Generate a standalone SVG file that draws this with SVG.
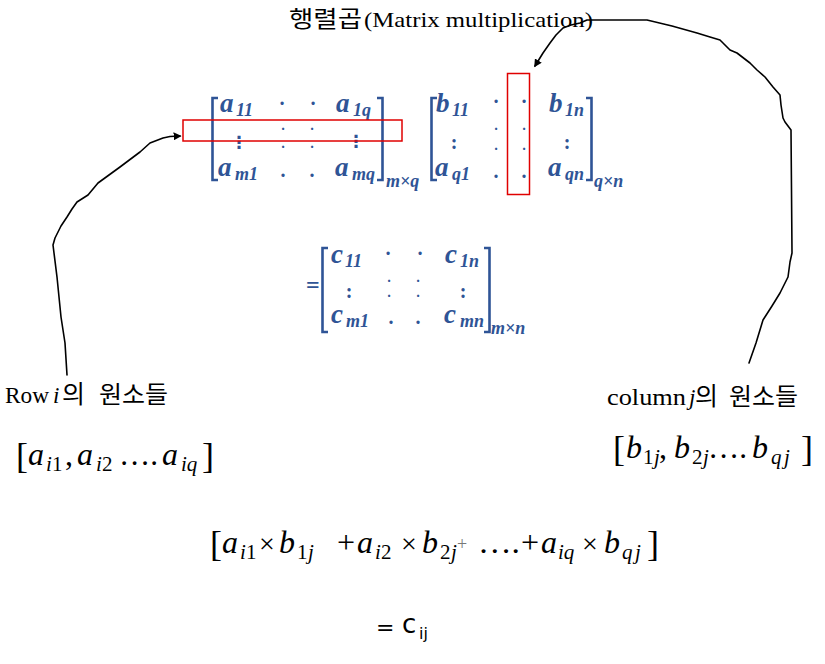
<svg xmlns="http://www.w3.org/2000/svg" width="825" height="664" viewBox="0 0 825 664">
<style>
.kr{font-family:"Noto Sans CJK KR","Noto Sans",sans-serif;fill:#000}
.tm{font-family:"Liberation Serif","Times New Roman",serif;fill:#000}
.m{font-family:"Liberation Serif","Times New Roman",serif;fill:#000}
.mi{font-family:"Liberation Serif","Times New Roman",serif;font-style:italic;fill:#000}
.bm{font-family:"Liberation Serif","Times New Roman",serif;font-weight:bold;font-style:italic;fill:#2f5496;font-size:27px}
.bs{font-family:"Liberation Serif","Times New Roman",serif;font-weight:bold;font-style:italic;fill:#2f5496;font-size:18px}
.bd{font-family:"Liberation Serif","Times New Roman",serif;font-weight:bold;fill:#2f5496;font-size:20px;text-anchor:middle}
.sd{font-family:"Liberation Serif","Times New Roman",serif;font-weight:bold;fill:#2f5496;font-size:14px;text-anchor:middle}
.vd{font-family:"DejaVu Sans",sans-serif;font-weight:bold;fill:#2f5496;font-size:17px;text-anchor:middle}
.br{fill:none;stroke:#2f5496;stroke-width:2.6}
.red{fill:none;stroke:#e00000;stroke-width:1.5}
.con{fill:none;stroke:#000;stroke-width:1.6;stroke-linejoin:round;stroke-linecap:round}
</style>
<defs>
<marker id="ah" viewBox="0 0 10 10" refX="8" refY="5" markerWidth="8" markerHeight="8" orient="auto" markerUnits="userSpaceOnUse">
<path d="M0,0 L10,5 L0,10 z" fill="#000"/>
</marker>
</defs>
<rect width="825" height="664" fill="#fff"/>

<g id="title">
<text class="kr" x="289" y="27" font-size="23" textLength="73" lengthAdjust="spacingAndGlyphs">행렬곱</text>
<text class="tm" x="364" y="27" font-size="22" textLength="229" lengthAdjust="spacingAndGlyphs">(Matrix multiplication)</text>
</g>

<g id="matrixA">
<path class="br" d="M218,98 H212.5 V180 H218"/>
<path class="br" d="M377,98 H382.5 V180 H377"/>
<text class="bm" x="220" y="112">a</text><text class="bs" x="236" y="116">11</text>
<text class="bd" x="282" y="110">·</text><text class="bd" x="313" y="110">·</text>
<text class="bm" x="336" y="112">a</text><text class="bs" x="353" y="116">1q</text>
<text class="vd" x="239" y="148">⋮</text>
<text class="sd" x="283" y="134">·</text><text class="sd" x="283" y="152">·</text>
<text class="sd" x="312" y="134">·</text><text class="sd" x="312" y="152">·</text>
<text class="vd" x="356" y="147">⋮</text>
<text class="bm" x="218" y="176">a</text><text class="bs" x="235" y="180">m1</text>
<text class="bd" x="283" y="177">.</text><text class="bd" x="312" y="177">.</text>
<text class="bm" x="335" y="176">a</text><text class="bs" x="352" y="180">mq</text>
<text class="bs" x="386" y="187">m×q</text>
</g>

<g id="matrixB">
<path class="br" d="M437,98 H431.5 V180 H437"/>
<path class="br" d="M586,98 H591.5 V180 H586"/>
<text class="bm" x="436" y="112">b</text><text class="bs" x="452" y="116">11</text>
<text class="bd" x="496" y="108">·</text><text class="bd" x="524" y="108">·</text>
<text class="bm" x="549" y="112">b</text><text class="bs" x="565" y="116">1n</text>
<text class="bd" x="454" y="149">:</text>
<text class="sd" x="496" y="134">·</text><text class="sd" x="496" y="154">·</text>
<text class="sd" x="524" y="134">·</text><text class="sd" x="524" y="154">·</text>
<text class="bd" x="567" y="149">:</text>
<text class="bm" x="435" y="176">a</text><text class="bs" x="452" y="180">q1</text>
<text class="bd" x="496" y="178">.</text><text class="bd" x="524" y="178">.</text>
<text class="bm" x="548" y="176">a</text><text class="bs" x="565" y="180">qn</text>
<text class="bs" x="594" y="187">q×n</text>
</g>

<g id="matrixC">
<text x="306" y="293" style="font-family:'Liberation Serif',serif;font-weight:bold;fill:#2f5496;font-size:24px">=</text>
<path class="br" d="M328,248 H322.5 V332 H328"/>
<path class="br" d="M484,248 H489.5 V332 H484"/>
<text class="bm" x="331" y="263">c</text><text class="bs" x="345" y="267">11</text>
<text class="bd" x="388" y="260">·</text><text class="bd" x="420" y="260">·</text>
<text class="bm" x="445" y="263">c</text><text class="bs" x="460" y="267">1n</text>
<text class="bd" x="349" y="298" font-size="24">:</text>
<text class="sd" x="389" y="285.5" font-size="13">·</text><text class="sd" x="389" y="300.5" font-size="13">·</text>
<text class="sd" x="418" y="285.5" font-size="13">·</text><text class="sd" x="418" y="300.5" font-size="13">·</text>
<text class="bd" x="463" y="298" font-size="24">:</text>
<text class="bm" x="331" y="323">c</text><text class="bs" x="346" y="327">m1</text>
<text class="bd" x="391" y="324">.</text><text class="bd" x="418" y="324">.</text>
<text class="bm" x="444" y="323">c</text><text class="bs" x="460" y="327">mn</text>
<text class="bs" x="491" y="334">m×n</text>
</g>

<g id="highlights">
<rect id="rowBox" class="red" x="183" y="120" width="219" height="21"/>
<rect id="colBox" class="red" x="507.5" y="73.5" width="22" height="121"/>
</g>

<g id="connectors">
<path class="con" marker-end="url(#ah)" d="M67,375 L65,343 L61,317 L57,277 L53,245 L55,238 L61,226 L67,217 L72,209 L77,202 L88,195 L98,183 L120,167 L140,152 L150,143 L163,138 L170,136.5 L180,136"/>
<path class="con" marker-end="url(#ah)" d="M749,363 L756,343 L763,320 L772,306 L780,293 L788,277 L790,262 L792,253 L791.5,190 L791,130 L785,122 L783,118 L781,105 L780,95 L773,87 L765,77 L757,70 L750,63 L737,53 L730,50 L720,40 L710,37 L697,33 L672,26 L647,20 L617,20 L587,20 L580,23 L571,25 L563,28 L556,35 L550,43 L543,53 L535,66"/>
</g>

<g id="rowLabel">
<text class="tm" x="5" y="403" font-size="23" textLength="44" lengthAdjust="spacingAndGlyphs">Row</text>
<text class="tm" x="53" y="403" font-size="23" font-style="italic">i</text>
<text class="kr" x="62" y="403" font-size="25">의</text>
<text class="kr" x="99" y="403" font-size="24" textLength="69" lengthAdjust="spacingAndGlyphs">원소들</text>
</g>

<g id="colLabel">
<text class="tm" x="607" y="405" font-size="23" textLength="79" lengthAdjust="spacingAndGlyphs">column</text>
<text class="tm" x="689" y="405" font-size="23" font-style="italic">j</text>
<text class="kr" x="695" y="405" font-size="25">의</text>
<text class="kr" x="729" y="405" font-size="24" textLength="69" lengthAdjust="spacingAndGlyphs">원소들</text>
</g>

<g id="rowElements">
<text class="tm" x="16" y="468" font-size="36">[</text>
<text class="mi" x="28" y="465" font-size="32">a</text><text class="mi" x="46" y="471" font-size="21">i</text><text class="m" x="52" y="471" font-size="21">1</text>
<text class="m" x="65" y="465" font-size="32">,</text>
<text class="mi" x="77" y="465" font-size="32">a</text><text class="mi" x="96" y="471" font-size="21">i</text><text class="m" x="102" y="471" font-size="21">2</text>
<text class="m" x="119" y="465" font-size="32" textLength="39" lengthAdjust="spacingAndGlyphs">….</text>
<text class="mi" x="162" y="465" font-size="32">a</text><text class="mi" x="181" y="471" font-size="21">iq</text>
<text class="tm" x="202" y="468" font-size="36">]</text>
</g>

<g id="colElements">
<text class="tm" x="613" y="461" font-size="36">[</text>
<text class="mi" x="626" y="458" font-size="32">b</text><text class="m" x="643" y="464" font-size="21">1</text><text class="mi" x="654" y="464" font-size="21">j</text>
<text class="m" x="659" y="458" font-size="32">,</text>
<text class="mi" x="674" y="458" font-size="32">b</text><text class="m" x="692" y="464" font-size="21">2</text><text class="mi" x="703" y="464" font-size="21">j</text>
<text class="m" x="708" y="458" font-size="32" textLength="39" lengthAdjust="spacingAndGlyphs">….</text>
<text class="mi" x="752" y="458" font-size="32">b</text><text class="mi" x="771" y="464" font-size="21">q</text><text class="mi" x="784" y="464" font-size="21">j</text>
<text class="tm" x="801" y="461" font-size="36">]</text>
</g>

<g id="formula">
<text class="tm" x="210" y="556" font-size="36">[</text>
<text class="mi" x="222" y="553" font-size="32">a</text><text class="mi" x="240" y="559" font-size="21">i</text><text class="m" x="246" y="559" font-size="21">1</text>
<text class="m" x="259" y="553" font-size="28">×</text>
<text class="mi" x="279" y="553" font-size="32">b</text><text class="m" x="297" y="559" font-size="21">1</text><text class="mi" x="308" y="559" font-size="21">j</text>
<text class="m" x="337" y="553" font-size="32">+</text>
<text class="mi" x="357" y="553" font-size="32">a</text><text class="mi" x="375" y="559" font-size="21">i</text><text class="m" x="381" y="559" font-size="21">2</text>
<text class="m" x="401" y="553" font-size="28">×</text>
<text class="mi" x="422" y="553" font-size="32">b</text><text class="m" x="440" y="559" font-size="21">2</text><text class="mi" x="451" y="559" font-size="21">j</text>
<text class="m" x="457" y="550" font-size="18" style="fill:#777">+</text>
<text class="m" x="478" y="553" font-size="32" textLength="42" lengthAdjust="spacingAndGlyphs">….</text>
<text class="m" x="521" y="553" font-size="32">+</text>
<text class="mi" x="541" y="553" font-size="32">a</text><text class="mi" x="558" y="559" font-size="21">iq</text>
<text class="m" x="582" y="553" font-size="28">×</text>
<text class="mi" x="604" y="553" font-size="32">b</text><text class="mi" x="622" y="559" font-size="21">q</text><text class="mi" x="635" y="559" font-size="21">j</text>
<text class="tm" x="647" y="556" font-size="36">]</text>
</g>

<g id="result">
<text x="376" y="635" style="font-family:'DejaVu Sans',sans-serif;font-size:22px;fill:#000">=</text>
<text x="402" y="633" style="font-family:'DejaVu Sans',sans-serif;font-size:26px;fill:#000">c</text>
<text x="419" y="639" style="font-family:'DejaVu Sans',sans-serif;font-size:16px;fill:#000">ij</text>
</g>
</svg>
